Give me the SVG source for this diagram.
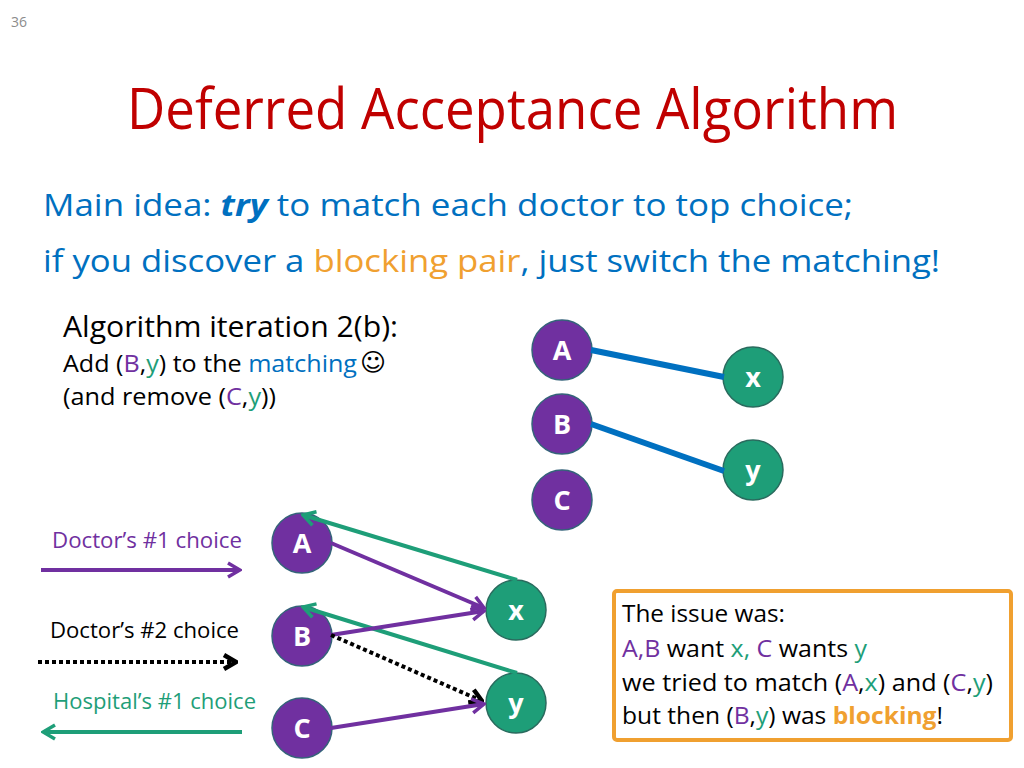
<svg xmlns="http://www.w3.org/2000/svg" width="1024" height="768" viewBox="0 0 1024 768">
<style>
text{font-family:"Open Sans","Noto Sans","Liberation Sans",sans-serif;}
.pnum{font-size:14px;fill:#8c8c8c;}
.title{font-size:57px;fill:#C00000;}
.main{font-size:31px;fill:#0070C0;}
.it{font-size:30px;fill:#000;}
.sub{font-size:23px;fill:#000;}
.leg{font-size:22px;}
.box{font-size:23px;fill:#000;}
.P{fill:#7030A0;}
.G{fill:#1E9E78;}
.B{fill:#0070C0;}
.O{fill:#F0A030;}
.doc{fill:#7030A0;stroke:#35637a;stroke-width:1.5;}
.hos{fill:#1E9E78;stroke:#2a6b5e;stroke-width:1.5;}
.lbl{font-size:27px;font-weight:bold;fill:#fff;text-anchor:middle;}
.m{stroke:#0070C0;stroke-width:6;fill:none;}
.pe{stroke:#7030A0;stroke-width:4;fill:none;}
.ge{stroke:#1E9E78;stroke-width:4;fill:none;}
.be{stroke:#000;stroke-width:4;stroke-dasharray:4 3;fill:none;}
</style>
<defs>
<marker id="ap" viewBox="0 0 16 18" refX="14" refY="9" markerWidth="16" markerHeight="18" markerUnits="userSpaceOnUse" orient="auto">
<path d="M2,2 L14,9 L2,16" fill="none" stroke="#7030A0" stroke-width="3.5"/>
</marker>
<marker id="ag" viewBox="0 0 16 18" refX="14" refY="9" markerWidth="16" markerHeight="18" markerUnits="userSpaceOnUse" orient="auto">
<path d="M2,2 L14,9 L2,16" fill="none" stroke="#1E9E78" stroke-width="3.5"/>
</marker>
<marker id="ab" viewBox="0 0 16 18" refX="14" refY="9" markerWidth="16" markerHeight="18" markerUnits="userSpaceOnUse" orient="auto">
<path d="M2,2 L14,9 L2,16" fill="none" stroke="#000" stroke-width="4.5"/>
</marker>
</defs>
<rect width="1024" height="768" fill="#fff"/>
<text class="pnum" x="11" y="27">36</text>
<text class="title" x="127" y="129" textLength="771" lengthAdjust="spacingAndGlyphs">Deferred Acceptance Algorithm</text>
<text class="main" x="43" y="216" textLength="810" lengthAdjust="spacingAndGlyphs">Main idea: <tspan font-weight="bold" font-style="italic">try</tspan> to match each doctor to top choice;</text>
<text class="main" x="43" y="272" textLength="897" lengthAdjust="spacingAndGlyphs">if you discover a <tspan class="O">blocking pair</tspan>, just switch the matching!</text>
<text class="it" x="63" y="337" textLength="335" lengthAdjust="spacingAndGlyphs">Algorithm iteration 2(b):</text>
<text class="sub" x="63" y="372" textLength="294" lengthAdjust="spacingAndGlyphs">Add (<tspan class="P">B</tspan>,<tspan class="G">y</tspan>) to the <tspan class="B">matching</tspan></text>
<text x="373" y="371" font-size="25" text-anchor="middle" style="font-family:'DejaVu Sans',sans-serif">☺</text>
<text class="sub" x="63" y="405" textLength="213" lengthAdjust="spacingAndGlyphs">(and remove (<tspan class="P">C</tspan>,<tspan class="G">y</tspan>))</text>
<g id="top-A"><circle class="doc" cx="562" cy="350" r="30"/><text class="lbl" x="562" y="360">A</text></g>
<g id="top-B"><circle class="doc" cx="562" cy="424" r="30"/><text class="lbl" x="562" y="434">B</text></g>
<g id="top-C"><circle class="doc" cx="562" cy="500" r="30"/><text class="lbl" x="562" y="510">C</text></g>
<g id="top-x"><circle class="hos" cx="753" cy="377" r="30"/><text class="lbl" x="753" y="387">x</text></g>
<g id="top-y"><circle class="hos" cx="753" cy="470" r="30"/><text class="lbl" x="753" y="480">y</text></g>
<g id="bot-A"><circle class="doc" cx="302" cy="543" r="30"/><text class="lbl" x="302" y="553">A</text></g>
<g id="bot-B"><circle class="doc" cx="302" cy="636" r="30"/><text class="lbl" x="302" y="646">B</text></g>
<g id="bot-C"><circle class="doc" cx="302" cy="728" r="30"/><text class="lbl" x="302" y="738">C</text></g>
<g id="bot-x"><circle class="hos" cx="516" cy="610" r="30"/><text class="lbl" x="516" y="620">x</text></g>
<g id="bot-y"><circle class="hos" cx="516" cy="703" r="30"/><text class="lbl" x="516" y="713">y</text></g>
<g id="connectors">
<line class="m" x1="591" y1="350" x2="724" y2="377"/>
<line class="m" x1="591" y1="424" x2="724" y2="471"/>
<line class="pe" x1="41" y1="570" x2="240" y2="570" marker-end="url(#ap)"/>
<line class="be" x1="38" y1="662" x2="236" y2="662" marker-end="url(#ab)"/>
<line class="ge" x1="242" y1="732" x2="43" y2="732" marker-end="url(#ag)"/>
<line class="ge" x1="517" y1="580" x2="303" y2="515" marker-end="url(#ag)"/>
<line class="ge" x1="517" y1="673" x2="303" y2="607" marker-end="url(#ag)"/>
<line class="pe" x1="331" y1="543" x2="484" y2="608" marker-end="url(#ap)"/>
<line class="pe" x1="331" y1="635" x2="484" y2="611" marker-end="url(#ap)"/>
<line class="be" x1="331" y1="635" x2="482" y2="701" marker-end="url(#ab)"/>
<line class="pe" x1="331" y1="728" x2="484" y2="704" marker-end="url(#ap)"/>
</g>
<g id="legend">
<text class="leg P" x="52" y="548" textLength="190" lengthAdjust="spacingAndGlyphs">Doctor’s #1 choice</text>
<text class="leg" x="50" y="638" textLength="189" lengthAdjust="spacingAndGlyphs" fill="#000">Doctor’s #2 choice</text>
<text class="leg G" x="53" y="709" textLength="203" lengthAdjust="spacingAndGlyphs">Hospital’s #1 choice</text>
</g>
<g id="issue-box">
<rect x="614" y="591" width="397" height="149" rx="3" fill="#fff" stroke="#F0A030" stroke-width="4"/>
<text class="box" x="622" y="622" textLength="163" lengthAdjust="spacingAndGlyphs">The issue was:</text>
<text class="box" x="622" y="657" textLength="245" lengthAdjust="spacingAndGlyphs"><tspan class="P">A,B</tspan> want <tspan class="G">x, </tspan><tspan class="P">C</tspan> wants <tspan class="G">y</tspan></text>
<text class="box" x="622" y="691" textLength="371" lengthAdjust="spacingAndGlyphs">we tried to match (<tspan class="P">A</tspan>,<tspan class="G">x</tspan>) and (<tspan class="P">C</tspan>,<tspan class="G">y</tspan>)</text>
<text class="box" x="622" y="724" textLength="321" lengthAdjust="spacingAndGlyphs">but then (<tspan class="P">B</tspan>,<tspan class="G">y</tspan>) was <tspan class="O" font-weight="bold">blocking</tspan>!</text>
</g>
</svg>
